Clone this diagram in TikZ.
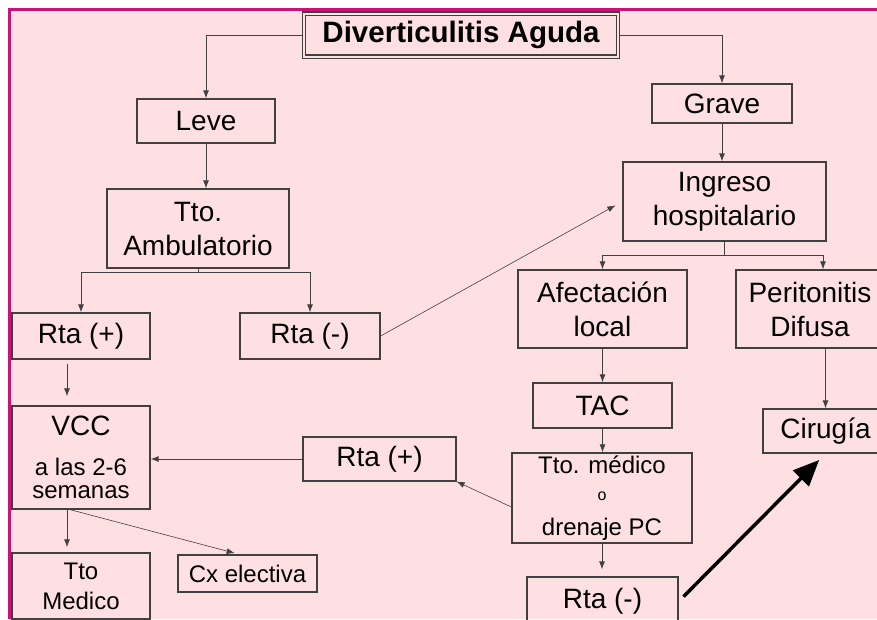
\documentclass[tikz,border=0pt]{standalone}
\usepackage{fontspec}
\setmainfont{Liberation Sans}
\usetikzlibrary{arrows.meta}
\definecolor{bgpink}{RGB}{255,224,226}
\definecolor{framemag}{RGB}{204,17,119}
\definecolor{boxgray}{RGB}{64,64,64}
\begin{document}
\begin{tikzpicture}[x=1pt, y=-1pt,
  box/.style={draw=boxgray, rectangle, line width=1.2pt, align=center, inner sep=0pt, font=\fontsize{28}{34}\selectfont},
  small/.style={font=\fontsize{24}{30}\selectfont},
  link/.style={draw=boxgray, line width=0.9pt, -{Latex[length=8pt,width=6pt]}}]
\useasboundingbox (0,0) rectangle (877,619);
\clip (0,0) rectangle (877,619);
\fill[bgpink] (9,9) rectangle (877,619);
\draw[framemag, line width=2.5pt] (9.5,619) -- (9.5,9.5) -- (877,9.5);
\node[box, double=bgpink, double distance=2pt, minimum width=314pt, minimum height=43pt, font=\bfseries\fontsize{29.5}{34}\selectfont] (title) at (461,35) {Diverticulitis Aguda};
\node[box, minimum width=138pt, minimum height=44pt] (leve) at (206,121) {Leve};
\node[box, minimum width=140pt, minimum height=39pt] (grave) at (722,103.5) {Grave};
\node[box, minimum width=182pt, minimum height=79pt] (tto) at (198,228.5) {Tto.\\Ambulatorio};
\node[box, minimum width=203pt, minimum height=79pt] (ingreso) at (724.5,201.5) {Ingreso\\hospitalario};
\node[box, minimum width=138pt, minimum height=46pt] (rtapos) at (81,336) {Rta (+)};
\node[box, minimum width=140pt, minimum height=46pt] (rtaneg) at (310,336) {Rta (-)};
\node[box, minimum width=169pt, minimum height=78pt] (afect) at (602.5,309) {Afectación\\local};
\node[box, minimum width=148pt, minimum height=78pt] (perit) at (810,309) {Peritonitis\\Difusa};
\node[box, minimum width=139pt, minimum height=45pt] (tac) at (602.5,405.5) {TAC};
\node[box, minimum width=125pt, minimum height=44pt] (cirugia) at (825.5,431) {Cirugía};
\node[box, font=\fontsize{24}{23}\selectfont, minimum width=138pt, minimum height=103pt] (vcc) at (81,457.5) {{\fontsize{28}{34}\selectfont VCC}\\[17pt]a las 2-6\\semanas};
\node[box, minimum width=153pt, minimum height=44pt] (rtapos2) at (379.5,459) {Rta (+)};
\node[box, small, font=\fontsize{24}{31}\selectfont, minimum width=180pt, minimum height=90pt] (ttomed) at (602,498) {Tto. médico\\[-4pt]{\fontsize{16}{16}\selectfont o}\\[4pt]drenaje PC};
\node[box, small, minimum width=138pt, minimum height=66pt] (ttomedico) at (81,586) {Tto\\Medico};
\node[box, small, minimum width=139pt, minimum height=37pt] (cx) at (247.5,573.5) {Cx electiva};
\node[box, minimum width=151pt, minimum height=49pt] (rtaneg2) at (602.5,601.5) {Rta (-)};
\coordinate (ttosplit) at (198,272);
\coordinate (ingsplit) at (724.5,255);
\draw[link] (title.west) -| (leve.north);
\draw[link] (title.east) -| (grave.north);
\draw[link] (leve.south) -- (leve.south |- tto.north);
\draw[link] (grave.south) -- (grave.south |- ingreso.north);
\draw[boxgray, line width=0.9pt] (tto.south) -- (ttosplit);
\draw[link] (ttosplit) -| (rtapos.north);
\draw[link] (ttosplit) -| (rtaneg.north);
\draw[boxgray, line width=0.9pt] (ingreso.south) -- (ingsplit);
\draw[link] (ingsplit) -| (afect.north);
\draw[link] (ingsplit) -| ([xshift=13pt]perit.north);
\draw[link, shorten <=4pt, shorten >=9pt] ([xshift=-14pt]rtapos.south) -- ([xshift=-14pt]vcc.north);
\draw[link, line width=0.6pt, shorten >=8pt] (rtaneg.east) -- (ingreso.west);
\draw[link] (afect.south) -- (afect.south |- tac.north);
\draw[link] (tac.south) -- (tac.south |- ttomed.north);
\draw[link, shorten >=7pt] (ttomed.south) -- (ttomed.south |- rtaneg2.north);
\draw[link] (cirugia.north |- perit.south) -- (cirugia.north);
\draw[link] (rtapos2.west) -- (rtapos2.west -| vcc.east);
\draw[link, line width=0.6pt] ([yshift=-9pt]ttomed.west) -- (rtapos2.south east);
\draw[link, shorten >=5pt] ([xshift=-14pt]vcc.south) -- ([xshift=-14pt]ttomedico.north);
\draw[link, line width=0.6pt, shorten >=5pt] ([xshift=-11pt]vcc.south) -- ([xshift=-8pt]cx.north);
\draw[line width=3.5pt, -{Triangle[length=26pt,width=22pt]}, shorten <=7pt, shorten >=9pt] (rtaneg2.east) -- (cirugia.south);
\end{tikzpicture}
\end{document}
